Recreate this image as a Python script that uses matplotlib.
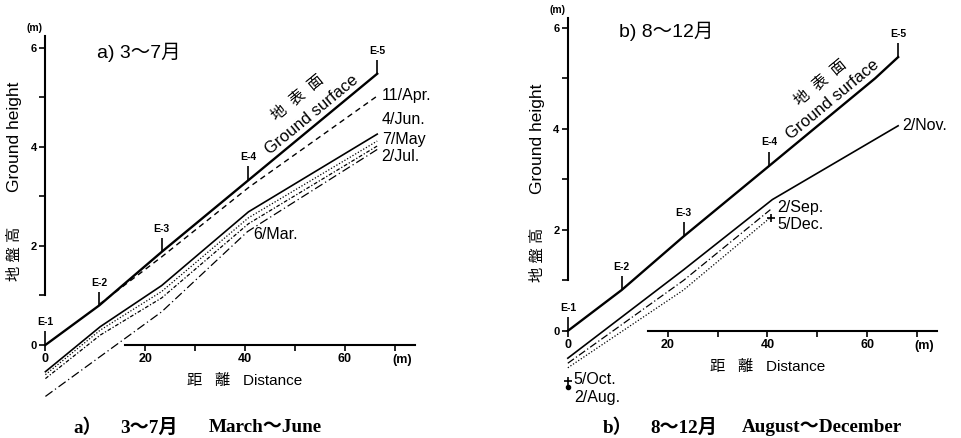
import matplotlib
matplotlib.use("Agg")
import matplotlib.pyplot as plt

plt.rcParams['font.family'] = ['Liberation Sans', 'Noto Sans CJK JP', 'DejaVu Sans']

# ---------------- data: panel a) March - June ----------------
a_ground_x = [0, 10.8, 23.3, 40.7, 66.5]
a_ground_y = [0, 0.80, 1.88, 3.33, 5.48]
a_stations = ["E-1", "E-2", "E-3", "E-4", "E-5"]
a_apr11_x = [10.8, 23.3, 40.7, 66.5]
a_apr11_y = [0.82, 1.78, 3.18, 5.03]
a_low_x = [0, 11, 23.3, 40.7, 66.5]
a_jun4_y = [-0.54, 0.37, 1.20, 2.69, 4.26]
a_may7_y = [-0.60, 0.30, 1.08, 2.57, 4.12]
a_jul2_y = [-0.68, 0.20, 0.95, 2.45, 4.02]
a_mar6_x = [0, 23.3, 40.5, 66.5]
a_mar6_y = [-1.04, 0.67, 2.29, 3.95]

# ---------------- data: panel b) August - December ----------------
b_ground_x = [0, 10.8, 23.2, 40.4, 61.6, 66.2]
b_ground_y = [0, 0.81, 1.87, 3.27, 5.00, 5.42]
b_station_idx = [0, 1, 2, 3, 5]
b_nov2_x = [0, 23.2, 41.0, 66.2]
b_nov2_y = [-0.54, 1.21, 2.60, 4.06]
b_sep2_x = [0, 23.2, 40.6]
b_sep2_y = [-0.64, 1.00, 2.40]
b_dec5_x = [0, 23.2, 40.8]
b_dec5_y = [-0.73, 0.81, 2.26]
b_oct5_pt = (0, -1.00)
b_aug2_pt = (0, -1.12)
b_end_pt = (40.8, 2.24)

x_ticks = [0, 20, 30, 40, 50, 60, 70]
x_ticklabels = ["0", "20", "", "40", "", "60", ""]
y_ticks = [0, 1, 2, 3, 4, 5, 6]
y_ticklabels = ["0", "", "2", "", "4", "", "6"]

fig = plt.figure(figsize=(9.62, 4.38), dpi=100)
axa = fig.add_axes([0, 0, 0.5, 1])
axb = fig.add_axes([0.5, 0, 0.5, 1])
axa.set_xlim(-9.1, 87.3)
axa.set_ylim(-1.88, 6.97)
axb.set_xlim(-17.4, 79.0)
axb.set_ylim(-2.12, 6.55)

for ax, ytop, ylab in ((axa, 6.25, 4.2), (axb, 6.2, 3.8)):
    ax.patch.set_alpha(0)
    for s in ("top", "right"):
        ax.spines[s].set_visible(False)
    ax.spines["left"].set_position(("data", 0))
    ax.spines["bottom"].set_position(("data", 0))
    ax.spines["left"].set_bounds(1, ytop)
    ax.spines["bottom"].set_bounds(16, 74)
    ax.spines["left"].set_linewidth(1.5)
    ax.spines["bottom"].set_linewidth(1.5)
    ax.set_xticks(x_ticks)
    ax.set_xticklabels(x_ticklabels, fontsize=9, fontweight="bold")
    ax.set_yticks(y_ticks)
    ax.set_yticklabels(y_ticklabels, fontsize=8, fontweight="bold")
    ax.tick_params(axis="both", direction="out", length=4, width=1.2, pad=2)
    ax.text(-0.5, ytop + 0.05, "(m)", fontsize=7.5, fontweight="bold", ha="right", va="bottom")
    ax.text(71.5, -0.30, "(m)", fontsize=9, fontweight="bold", ha="center", va="center")
    ax.text(-6.1, ylab, "Ground height", rotation=90, fontsize=12.5, ha="center", va="center")
    ax.text(40.0, -0.72, "距   離   Distance", fontsize=11, ha="center", va="center")

# ---- panel a
axa.plot(a_ground_x, a_ground_y, color="black", lw=1.7)
axa.plot(a_apr11_x, a_apr11_y, color="black", lw=1.0, ls=(0, (4, 3)))
axa.plot(a_low_x, a_jun4_y, color="black", lw=1.2, ls="-")
axa.plot(a_low_x, a_may7_y, color="black", lw=0.9, ls=(0, (1, 1.5)))
axa.plot(a_low_x, a_jul2_y, color="black", lw=0.9, ls=(0, (3, 1.5, 1, 1.5)))
axa.plot(a_mar6_x, a_mar6_y, color="black", lw=0.9, ls=(0, (7, 2.5, 1, 2.5)))
axa.vlines(a_ground_x, a_ground_y, [v + 0.28 for v in a_ground_y], color="black", lw=1.2)
for name, gx, gy in zip(a_stations, a_ground_x, a_ground_y):
    axa.text(gx, gy + 0.46, name, fontsize=7.5, fontweight="bold", ha="center", va="center")
axa.text(67.4, 5.05, "11/Apr.", fontsize=11.5, ha="left", va="center")
axa.text(67.4, 4.55, "4/Jun.", fontsize=11.5, ha="left", va="center")
axa.text(67.4, 4.16, "7/May", fontsize=11.5, ha="left", va="center")
axa.text(67.4, 3.80, "2/Jul.", fontsize=11.5, ha="left", va="center")
axa.text(41.7, 2.24, "6/Mar.", fontsize=11.5, ha="left", va="center")
axa.text(10.4, 5.92, "a) 3～7月", fontsize=14, ha="left", va="center")
axa.text(-6.1, 1.84, "地 盤 高", rotation=90, fontsize=11, ha="center", va="center")
axa.text(53.4, 4.65, "Ground surface", rotation=39.5, rotation_mode="anchor",
         fontsize=12, ha="center", va="center")
axa.text(50.5, 5.0, "地  表  面", rotation=39.5, rotation_mode="anchor",
         fontsize=11, ha="center", va="center")

# ---- panel b
axb.plot(b_ground_x, b_ground_y, color="black", lw=1.7)
axb.plot(b_nov2_x, b_nov2_y, color="black", lw=1.2, ls="-")
axb.plot(b_sep2_x, b_sep2_y, color="black", lw=0.9, ls=(0, (6, 2, 1, 2)))
axb.plot(b_dec5_x, b_dec5_y, color="black", lw=0.9, ls=(0, (1, 1.5)))
bx = [b_ground_x[i] for i in b_station_idx]
by = [b_ground_y[i] for i in b_station_idx]
axb.vlines(bx, by, [v + 0.28 for v in by], color="black", lw=1.2)
for name, gx, gy in zip(a_stations, bx, by):
    axb.text(gx, gy + 0.46, name, fontsize=7.5, fontweight="bold", ha="center", va="center")
axb.plot([b_oct5_pt[0], b_end_pt[0]], [b_oct5_pt[1], b_end_pt[1]], ls="none",
         marker="+", color="black", ms=6, mew=1.2)
axb.plot([b_aug2_pt[0]], [b_aug2_pt[1]], ls="none", marker="o", color="black", ms=3)
axb.text(67.0, 4.06, "2/Nov.", fontsize=11.5, ha="left", va="center")
axb.text(42.0, 2.44, "2/Sep.", fontsize=11.5, ha="left", va="center")
axb.text(42.0, 2.10, "5/Dec.", fontsize=11.5, ha="left", va="center")
axb.text(1.2, -0.97, "5/Oct.", fontsize=11.5, ha="left", va="center")
axb.text(1.2, -1.31, "2/Aug.", fontsize=11.5, ha="left", va="center")
axb.text(10.2, 5.92, "b) 8～12月", fontsize=14, ha="left", va="center")
axb.text(-6.0, 1.5, "地 盤 高", rotation=90, fontsize=11, ha="center", va="center")
axb.text(53.0, 4.57, "Ground surface", rotation=39.7, rotation_mode="anchor",
         fontsize=12, ha="center", va="center")
axb.text(50.6, 4.91, "地  表  面", rotation=39.7, rotation_mode="anchor",
         fontsize=11, ha="center", va="center")

cap_font = ['Liberation Serif', 'Noto Sans CJK JP']
cap_y = 1 - 428 / 438
for px, s in ((73, "a）"), (120, "3～7月"), (209, "March～June"),
              (603, "b）"), (650, "8～12月"), (742, "August～December")):
    fig.text(px / 962, cap_y, s, family=cap_font, fontsize=13.8, fontweight="bold",
             ha="left", va="center")

fig.savefig("out.png", dpi=100)
